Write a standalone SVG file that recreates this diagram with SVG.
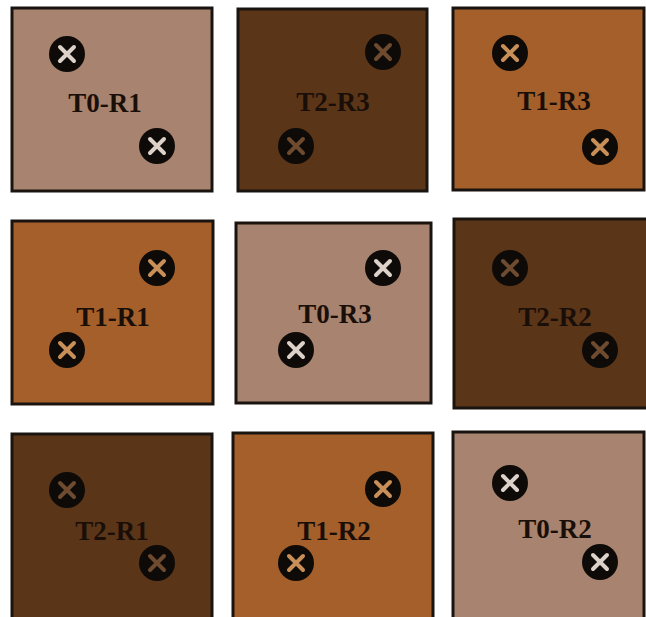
<svg xmlns="http://www.w3.org/2000/svg" width="646" height="617" viewBox="0 0 646 617">
<defs>
<style>
.tile{stroke:#1a1410;stroke-width:3}
.light{fill:#a8836f}
.mid{fill:#a45f2a}
.dark{fill:#5b3518}
.dot{fill:#0d0a08}
.xl{stroke:#ddd2c9;stroke-width:4;stroke-linecap:round}
.xm{stroke:#c98f58;stroke-width:4;stroke-linecap:round}
.xd{stroke:#6e4b2e;stroke-width:4;stroke-linecap:round}
.lbl{font-family:"Liberation Serif","DejaVu Serif",serif;font-weight:bold;font-size:27px;fill:#1a0f08;text-anchor:middle}
</style>
<g id="xmark-light"><circle r="18" class="dot"/><path d="M-7,-7L7,7M7,-7L-7,7" class="xl"/></g>
<g id="xmark-mid"><circle r="18" class="dot"/><path d="M-7,-7L7,7M7,-7L-7,7" class="xm"/></g>
<g id="xmark-dark"><circle r="18" class="dot"/><path d="M-7,-7L7,7M7,-7L-7,7" class="xd"/></g>
</defs>
<rect width="646" height="617" fill="#ffffff"/>
<g id="tile-T0-R1">
<rect x="12" y="8" width="200" height="183" class="tile light"/>
<use href="#xmark-light" x="67" y="54"/>
<use href="#xmark-light" x="157" y="146"/>
<text x="105" y="112" class="lbl">T0-R1</text>
</g>
<g id="tile-T2-R3">
<rect x="238" y="9" width="189" height="182" class="tile dark"/>
<use href="#xmark-dark" x="383" y="52"/>
<use href="#xmark-dark" x="296" y="146"/>
<text x="333" y="111" class="lbl">T2-R3</text>
</g>
<g id="tile-T1-R3">
<rect x="453" y="8" width="191" height="182" class="tile mid"/>
<use href="#xmark-mid" x="510" y="53"/>
<use href="#xmark-mid" x="600" y="147"/>
<text x="554" y="110" class="lbl">T1-R3</text>
</g>
<g id="tile-T1-R1">
<rect x="12" y="221" width="201" height="183" class="tile mid"/>
<use href="#xmark-mid" x="157" y="268"/>
<use href="#xmark-mid" x="67" y="350"/>
<text x="113" y="326" class="lbl">T1-R1</text>
</g>
<g id="tile-T0-R3">
<rect x="236" y="223" width="195" height="180" class="tile light"/>
<use href="#xmark-light" x="383" y="268"/>
<use href="#xmark-light" x="296" y="350"/>
<text x="335" y="323" class="lbl">T0-R3</text>
</g>
<g id="tile-T2-R2">
<rect x="454" y="219" width="195" height="189" class="tile dark"/>
<use href="#xmark-dark" x="510" y="268"/>
<use href="#xmark-dark" x="600" y="350"/>
<text x="555" y="326" class="lbl">T2-R2</text>
</g>
<g id="tile-T2-R1">
<rect x="12" y="434" width="200" height="190" class="tile dark"/>
<use href="#xmark-dark" x="67" y="490"/>
<use href="#xmark-dark" x="157" y="563"/>
<text x="112" y="540" class="lbl">T2-R1</text>
</g>
<g id="tile-T1-R2">
<rect x="233" y="433" width="200" height="190" class="tile mid"/>
<use href="#xmark-mid" x="383" y="489"/>
<use href="#xmark-mid" x="296" y="563"/>
<text x="334" y="540" class="lbl">T1-R2</text>
</g>
<g id="tile-T0-R2">
<rect x="453" y="432" width="191" height="192" class="tile light"/>
<use href="#xmark-light" x="510" y="483"/>
<use href="#xmark-light" x="600" y="562"/>
<text x="555" y="538" class="lbl">T0-R2</text>
</g>
<g id="connectors"/>
</svg>
